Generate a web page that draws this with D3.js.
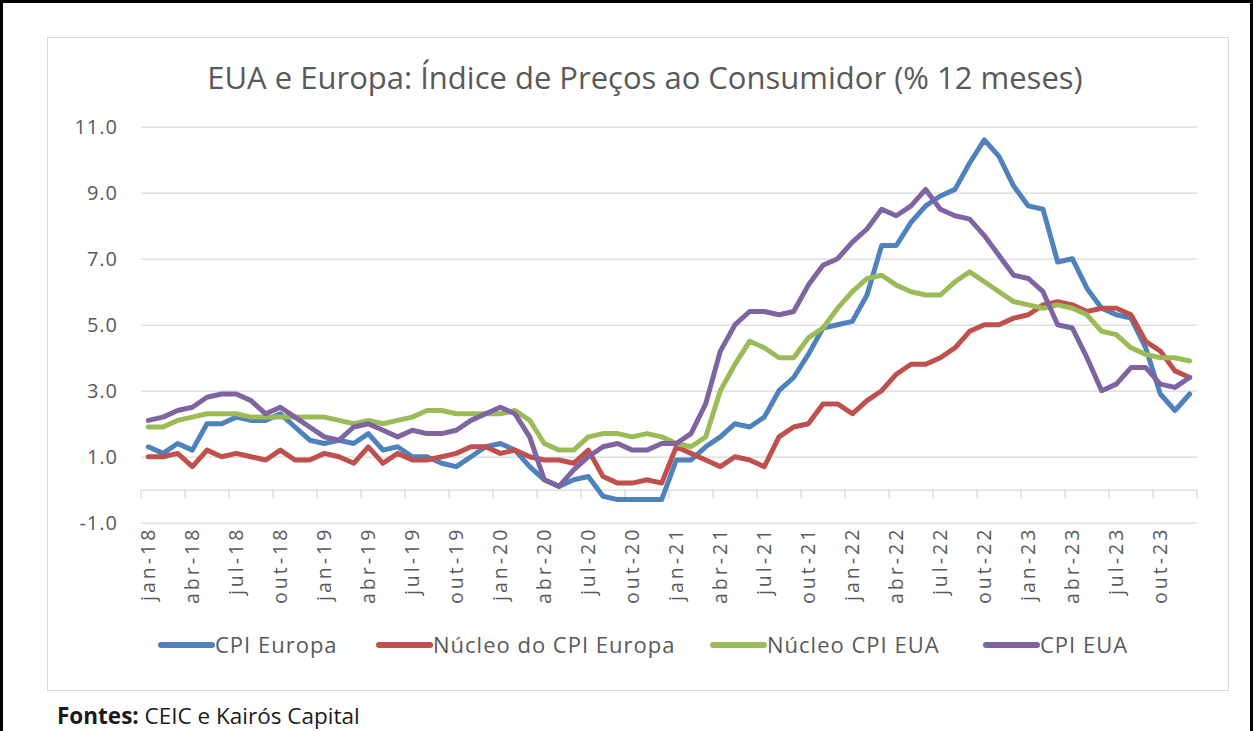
<!DOCTYPE html>
<html>
<head>
<meta charset="utf-8">
<script src="https://cdn.jsdelivr.net/npm/d3@7"></script>
<style>
  body { margin: 0; background: #fff; }
  text { font-family: 'Open Sans', sans-serif; }
</style>
</head>
<body>
<div id="chart"></div>
<script>
'use strict';

// dados: jan-18 ate dez-23, variacao em 12 meses (%)
var mesesNomes = ['jan','fev','mar','abr','mai','jun','jul','ago','set','out','nov','dez'];
var anos = ['18','19','20','21','22','23'];

var cpiEuropa = [
  1.3,1.1,1.4,1.2,2.0,2.0,2.2,2.1,2.1,2.3,1.9,1.5,
  1.4,1.5,1.4,1.7,1.2,1.3,1.0,1.0,0.8,0.7,1.0,1.3,
  1.4,1.2,0.7,0.3,0.1,0.3,0.4,-0.2,-0.3,-0.3,-0.3,-0.3,
  0.9,0.9,1.3,1.6,2.0,1.9,2.2,3.0,3.4,4.1,4.9,5.0,
  5.1,5.9,7.4,7.4,8.1,8.6,8.9,9.1,9.9,10.6,10.1,9.2,
  8.6,8.5,6.9,7.0,6.1,5.5,5.3,5.2,4.3,2.9,2.4,2.9
];
var nucleoEuropa = [
  1.0,1.0,1.1,0.7,1.2,1.0,1.1,1.0,0.9,1.2,0.9,0.9,
  1.1,1.0,0.8,1.3,0.8,1.1,0.9,0.9,1.0,1.1,1.3,1.3,
  1.1,1.2,1.0,0.9,0.9,0.8,1.2,0.4,0.2,0.2,0.3,0.2,
  1.3,1.1,0.9,0.7,1.0,0.9,0.7,1.6,1.9,2.0,2.6,2.6,
  2.3,2.7,3.0,3.5,3.8,3.8,4.0,4.3,4.8,5.0,5.0,5.2,
  5.3,5.6,5.7,5.6,5.4,5.5,5.5,5.3,4.5,4.2,3.6,3.4
];
var nucleoEUA = [
  1.9,1.9,2.1,2.2,2.3,2.3,2.3,2.2,2.2,2.2,2.2,2.2,
  2.2,2.1,2.0,2.1,2.0,2.1,2.2,2.4,2.4,2.3,2.3,2.3,
  2.3,2.4,2.1,1.4,1.2,1.2,1.6,1.7,1.7,1.6,1.7,1.6,
  1.4,1.3,1.6,3.0,3.8,4.5,4.3,4.0,4.0,4.6,4.9,5.5,
  6.0,6.4,6.5,6.2,6.0,5.9,5.9,6.3,6.6,6.3,6.0,5.7,
  5.6,5.5,5.6,5.5,5.3,4.8,4.7,4.3,4.1,4.0,4.0,3.9
];
var cpiEUA = [
  2.1,2.2,2.4,2.5,2.8,2.9,2.9,2.7,2.3,2.5,2.2,1.9,
  1.6,1.5,1.9,2.0,1.8,1.6,1.8,1.7,1.7,1.8,2.1,2.3,
  2.5,2.3,1.6,0.3,0.1,0.6,1.0,1.3,1.4,1.2,1.2,1.4,
  1.4,1.7,2.6,4.2,5.0,5.4,5.4,5.3,5.4,6.2,6.8,7.0,
  7.5,7.9,8.5,8.3,8.6,9.1,8.5,8.3,8.2,7.7,7.1,6.5,
  6.4,6.0,5.0,4.9,4.0,3.0,3.2,3.7,3.7,3.2,3.1,3.4
];

var seriesNomes = ['CPI Europa', 'Núcleo do CPI Europa', 'Núcleo CPI EUA', 'CPI EUA'];
var seriesCores = ['#4f81bd', '#c0504d', '#9bbb59', '#8064a2'];
var yTicks = [-1, 1, 3, 5, 7, 9, 11];

var grafico = {};
grafico.w = 1254;
grafico.h = 731;
grafico.left = 141;
grafico.right = 1197;
grafico.top = 126.7;
grafico.bottom = 522.7;
grafico.cinzaTexto = '#595959';
grafico.cinzaGrade = '#d9d9d9';

grafico.categorias = function ()
{
    var cats = [];
    for (var a = 0; a < anos.length; a++){
        for (var m = 0; m < mesesNomes.length; m++){
            cats.push(mesesNomes[m] + '-' + anos[a]);
        }
    }
    return cats;
}

grafico.appendSvg = function (div)
{
    var svg = d3.select(div).append('svg')
        .attr('width', grafico.w)
        .attr('height', grafico.h);
    // moldura preta externa
    svg.append('rect')
        .attr('x', 1.5).attr('y', 1.5)
        .attr('width', grafico.w - 4).attr('height', grafico.h + 20)
        .attr('fill', 'none').attr('stroke', '#000').attr('stroke-width', 3);
    // caixa do grafico
    svg.append('rect')
        .attr('x', 47.5).attr('y', 37.5)
        .attr('width', 1181).attr('height', 653)
        .attr('fill', '#fff').attr('stroke', grafico.cinzaGrade).attr('stroke-width', 1);
    return svg;
}

grafico.createScales = function (cats)
{
    grafico.xScale = d3.scaleBand().domain(cats).range([grafico.left, grafico.right]).padding(0);
    grafico.yScale = d3.scaleLinear().domain([-1, 11]).range([grafico.bottom, grafico.top]);
}

grafico.createAxes = function (svg, cats)
{
    var yAxis = d3.axisLeft(grafico.yScale)
        .tickValues(yTicks)
        .tickSize(-(grafico.right - grafico.left))
        .tickPadding(23)
        .tickFormat(function (d) { return d.toFixed(1); });
    var yg = svg.append('g')
        .attr('class', 'yAxis')
        .attr('transform', 'translate(' + grafico.left + ',0)')
        .call(yAxis);
    yg.select('.domain').remove();
    yg.selectAll('line').attr('stroke', grafico.cinzaGrade).attr('stroke-width', 1.3);
    yg.selectAll('text')
        .attr('fill', grafico.cinzaTexto)
        .attr('font-size', '20px')
        .attr('letter-spacing', '1px')
        .style('font-family', "'Open Sans', sans-serif");

    // eixo x no zero
    var y0 = grafico.yScale(0);
    var rotulos = cats.filter(function (d, i) { return i % 3 === 0; });
    var xAxis = d3.axisBottom(grafico.xScale)
        .tickValues(rotulos)
        .tickSize(0)
        .tickSizeOuter(0);
    var xg = svg.append('g')
        .attr('class', 'xAxis')
        .attr('transform', 'translate(0,' + y0 + ')')
        .call(xAxis);
    xg.select('.domain').attr('stroke', grafico.cinzaGrade).attr('stroke-width', 1.3);
    xg.selectAll('text')
        .attr('transform', 'rotate(-90)')
        .attr('text-anchor', 'end')
        .attr('x', -37)
        .attr('y', 0)
        .attr('dy', '0.35em')
        .attr('fill', grafico.cinzaTexto)
        .attr('font-size', '19.5px')
        .attr('letter-spacing', '3px')
        .style('font-family', "'Open Sans', sans-serif");

    // marcas entre categorias, a cada 3 meses
    var marcas = rotulos.map(function (d) { return grafico.xScale(d); });
    marcas.push(grafico.right);
    xg.selectAll('.marca').data(marcas).enter()
        .append('line')
        .attr('class', 'marca')
        .attr('x1', function (d) { return d; })
        .attr('x2', function (d) { return d; })
        .attr('y1', 0).attr('y2', 9)
        .attr('stroke', grafico.cinzaGrade).attr('stroke-width', 1.3);
}

grafico.appendLines = function (svg, cats, dados)
{
    var half = grafico.xScale.bandwidth() / 2;
    var linha = d3.line()
        .x(function (d, i) { return grafico.xScale(cats[i]) + half; })
        .y(function (d) { return grafico.yScale(d); });
    svg.selectAll('.serie').data(dados).enter()
        .append('path')
        .attr('class', 'serie')
        .attr('d', function (d) { return linha(d); })
        .attr('fill', 'none')
        .attr('stroke', function (d, i) { return seriesCores[i]; })
        .attr('stroke-width', 5)
        .attr('stroke-linejoin', 'round')
        .attr('stroke-linecap', 'round');
}

grafico.appendLegend = function (svg)
{
    var posX = [161, 379, 713, 986];
    var yL = 645;
    var g = svg.append('g').attr('class', 'legendGroup');
    var itens = seriesNomes.map(function (n, i) { return {nome: n, cor: seriesCores[i], x: posX[i]}; });
    g.selectAll('line').data(itens).enter()
        .append('line')
        .attr('x1', function (d) { return d.x; })
        .attr('x2', function (d) { return d.x + 51; })
        .attr('y1', yL).attr('y2', yL)
        .attr('stroke', function (d) { return d.cor; })
        .attr('stroke-width', 6)
        .attr('stroke-linecap', 'round');
    g.selectAll('text').data(itens).enter()
        .append('text')
        .attr('x', function (d) { return d.x + 54; })
        .attr('y', yL)
        .attr('dy', '0.35em')
        .attr('fill', grafico.cinzaTexto)
        .attr('font-size', '22px')
        .attr('letter-spacing', '1px')
        .text(function (d) { return d.nome; });
}

function desenha()
{
    var cats = grafico.categorias();
    var svg = grafico.appendSvg('#chart');
    grafico.createScales(cats);

    svg.append('text')
        .attr('x', 645).attr('y', 89)
        .attr('text-anchor', 'middle')
        .attr('fill', grafico.cinzaTexto)
        .attr('font-size', '31px')
        .text('EUA e Europa: Índice de Preços ao Consumidor (% 12 meses)');

    grafico.createAxes(svg, cats);
    grafico.appendLines(svg, cats, [cpiEuropa, nucleoEuropa, nucleoEUA, cpiEUA]);
    grafico.appendLegend(svg);

    var fonte = svg.append('text')
        .attr('x', 57).attr('y', 724)
        .attr('fill', '#1a1a1a')
        .attr('font-size', '22.5px');
    fonte.append('tspan').attr('font-weight', 'bold').text('Fontes:');
    fonte.append('tspan').text(' CEIC e Kairós Capital');
}

desenha();
</script>
</body>
</html>
